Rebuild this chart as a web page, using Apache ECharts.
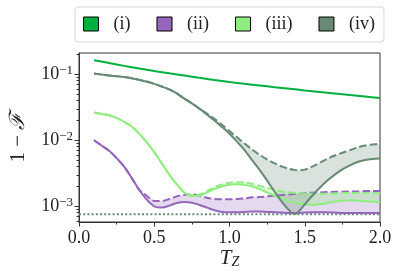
<!DOCTYPE html>
<html>
<head>
<meta charset="utf-8">
<script src="https://cdn.jsdelivr.net/npm/echarts@6/dist/echarts.min.js"></script>
<style>html,body{margin:0;padding:0;background:#fff;}#c{width:399px;height:279px;}</style>
</head>
<body>
<div id="c"></div>
<script>
// ---------- data ----------
const seriesNames = ['(i)', '(ii)', '(iii)', '(iv)'];

const tzI = [0.1,0.2,0.3,0.4,0.5,0.6,0.7,0.8,0.9,1.0,1.1,1.2,1.3,1.4,1.5,1.6,1.7,1.8,1.9,2.0];
const iSolid = [0.163,0.148,0.134,0.1225,0.112,0.1033,0.0955,0.0883,0.0818,0.0762,0.0716,0.0676,0.0637,0.0603,0.0569,0.054,0.0513,0.0485,0.046,0.0437];

const tz = [0.10,0.15,0.20,0.25,0.30,0.35,0.40,0.45,0.50,0.55,0.60,0.65,0.70,0.75,0.80,0.85,0.90,0.95,1.00,1.05,1.10,1.15,1.20,1.25,1.30,1.35,1.40,1.45,1.50,1.55,1.60,1.65,1.70,1.75,1.80,1.85,1.90,1.95,2.00];

const iiSolid = [0.01,0.00832,0.00692,0.00537,0.00398,0.00269,0.00178,0.00126,0.001,0.000955,0.001023,0.001122,0.001161,0.001135,0.001047,0.000955,0.000871,0.000822,0.000813,0.000813,0.000822,0.000832,0.000832,0.000822,0.000813,0.000804,0.000794,0.000794,0.000804,0.000813,0.000813,0.000813,0.000804,0.000794,0.000794,0.000794,0.000794,0.000794,0.000794];
const iiDashed = [0.01,0.00832,0.00692,0.00537,0.00398,0.00269,0.00178,0.001445,0.001202,0.001202,0.001288,0.001413,0.001496,0.001514,0.001445,0.001349,0.001288,0.001274,0.001274,0.001288,0.001318,0.001365,0.00138,0.001413,0.001445,0.001479,0.001514,0.001549,0.001585,0.001603,0.001622,0.001641,0.00166,0.00166,0.001679,0.001679,0.001698,0.001698,0.001698];

const iiiSolid = [0.0263,0.0251,0.0240,0.0219,0.01905,0.01622,0.01259,0.00933,0.00661,0.00447,0.00302,0.00214,0.00162,0.00143,0.001445,0.00162,0.00182,0.002,0.00211,0.00216,0.00211,0.002,0.00182,0.00162,0.001445,0.00129,0.001175,0.0011,0.00106,0.001047,0.00107,0.00112,0.001175,0.001216,0.00123,0.001216,0.001189,0.001175,0.00116];
const iiiDashed = [0.0263,0.0251,0.0240,0.0219,0.01905,0.01622,0.01259,0.00933,0.00661,0.00447,0.00302,0.00214,0.00162,0.001479,0.001514,0.001698,0.00195,0.00214,0.002265,0.002317,0.00229,0.00219,0.00204,0.001905,0.001778,0.001679,0.001622,0.001585,0.001567,0.001549,0.001549,0.001549,0.001567,0.001585,0.001585,0.001585,0.001585,0.001585,0.001585];

const tzIV = [0.10,0.15,0.20,0.25,0.30,0.35,0.40,0.45,0.50,0.55,0.60,0.65,0.70,0.75,0.80,0.85,0.90,0.95,1.00,1.05,1.10,1.15,1.20,1.25,1.30,1.35,1.40,1.425,1.45,1.50,1.55,1.60,1.65,1.70,1.75,1.80,1.85,1.90,1.95,2.00];
const ivSolid = [0.1026,0.0989,0.0955,0.0933,0.0908,0.0871,0.0822,0.0776,0.0716,0.0653,0.0589,0.0513,0.0427,0.0363,0.0302,0.02455,0.01995,0.01585,0.01259,0.00955,0.00708,0.00501,0.00355,0.00245,0.00166,0.00115,0.000851,0.000767,0.000794,0.00107,0.001445,0.001905,0.00245,0.00302,0.00363,0.00417,0.00468,0.00501,0.00519,0.00528];
const ivDashed = [0.1026,0.0989,0.0955,0.0933,0.0908,0.0871,0.0822,0.0776,0.0716,0.0653,0.0589,0.0513,0.0427,0.0363,0.0302,0.0254,0.0211,0.0172,0.0138,0.01109,0.00891,0.00724,0.00603,0.00513,0.00447,0.00398,0.00367,0.00357,0.00351,0.00359,0.00398,0.00457,0.00525,0.00589,0.00646,0.00708,0.00776,0.00832,0.00861,0.00891];

const floorX = [0.0, 2.0];
const floorY = [0.00076, 0.00076];

const yMajor = [0.001, 0.01, 0.1];
const yMajorExp = ['−3', '−2', '−1'];
const yMinor = [0.0006,0.0007,0.0008,0.0009,0.002,0.003,0.004,0.005,0.006,0.007,0.008,0.009,0.02,0.03,0.04,0.05,0.06,0.07,0.08,0.09,0.2];
const yMin = 0.000578, yMax = 0.21;

// ---------- styling ----------
const colors = ['#00b140', '#9467bd', '#90ee80', '#688a74'];
const fills = ['rgba(0,177,64,0.25)', 'rgba(148,103,189,0.25)', 'rgba(144,238,128,0.3)', 'rgba(104,138,116,0.25)'];
const FONT = 'Liberation Serif';
const dash = [7.4, 3.2];

function pairs(xs, ys) { return xs.map((x, i) => [x, ys[i]]); }

function band(xs, lo, hi, fill) {
  return {
    type: 'custom', silent: true, z: 1,
    data: [[xs[0], lo[0]]],
    renderItem: function (params, api) {
      const pts = [];
      for (let i = 0; i < xs.length; i++) pts.push(api.coord([xs[i], lo[i]]));
      for (let i = xs.length - 1; i >= 0; i--) pts.push(api.coord([xs[i], hi[i]]));
      return { type: 'polygon', shape: { points: pts }, style: { fill: fill } };
    }
  };
}

function line(name, xs, ys, color, dashed, z) {
  return {
    type: 'line', name: name, data: pairs(xs, ys), symbol: 'none', showSymbol: false,
    z: z, silent: true, smooth: 0.3,
    lineStyle: { color: color, width: 2, type: dashed ? dash : 'solid' },
    itemStyle: { color: color }
  };
}

const chart = echarts.init(document.getElementById('c'), null, { renderer: 'canvas' });

const option = {
  animation: false,
  backgroundColor: '#fff',
  grid: { left: 75, right: 19, top: 53, bottom: 57, show: true, borderColor: '#333', borderWidth: 1, backgroundColor: 'transparent' },
  legend: {
    left: 75, top: 7,
    padding: [8, 9, 9, 8],
    itemGap: 26, itemWidth: 15, itemHeight: 14,
    backgroundColor: '#fff', borderColor: '#d6d6d6', borderWidth: 1, borderRadius: 3,
    textStyle: { fontFamily: FONT, fontSize: 18, color: '#222', padding: [0, 0, 0, 10] },
    data: seriesNames.map((n, i) => ({ name: n, icon: 'rect', itemStyle: { color: colors[i], borderColor: '#000', borderWidth: 1 } }))
  },
  xAxis: {
    type: 'value', min: 0, max: 2, interval: 0.5,
    axisLine: { show: true, lineStyle: { color: '#333', width: 1 } },
    axisTick: { show: true, length: 4.5, lineStyle: { color: '#333' } },
    minorTick: { show: true, splitNumber: 2, length: 2.5, lineStyle: { color: '#333' } },
    splitLine: { show: false },
    axisLabel: { margin: 7, fontFamily: FONT, fontSize: 18, color: '#222', formatter: v => v.toFixed(1) },
    name: '{t|T}{z|Z}', nameLocation: 'middle', nameGap: 25, nameMoveOverlap: false,
    nameTextStyle: { rich: {
      t: { fontFamily: FONT, fontStyle: 'italic', fontSize: 21, color: '#222', lineHeight: 22 },
      z: { fontFamily: FONT, fontStyle: 'italic', fontSize: 14, color: '#222', lineHeight: 10, verticalAlign: 'bottom' }
    } }
  },
  yAxis: [{
    type: 'log', logBase: 10, min: yMin, max: yMax,
    axisLine: { show: true, lineStyle: { color: '#333', width: 1 } },
    axisTick: { show: true, length: 4.5, customValues: yMajor, lineStyle: { color: '#333' } },
    splitLine: { show: false },
    axisLabel: {
      margin: 6, customValues: yMajor,
      formatter: function (v) {
        const k = yMajor.findIndex(m => Math.abs(m - v) / m < 1e-6);
        return '{b|10}{s|' + yMajorExp[k] + '}';
      },
      rich: {
        b: { fontFamily: FONT, fontSize: 18, color: '#222', lineHeight: 20 },
        s: { fontFamily: FONT, fontSize: 13, color: '#222', lineHeight: 12, verticalAlign: 'top' }
      }
    },
    name: '1 − {f|ℱ}', nameLocation: 'middle', nameGap: 50, nameRotate: 90, nameMoveOverlap: false,
    nameTextStyle: { fontFamily: FONT, fontSize: 21, color: '#222', rich: {
      f: { fontFamily: 'DejaVu Serif', fontStyle: 'italic', fontSize: 21, color: '#222' }
    } }
  }, {
    type: 'log', logBase: 10, min: yMin, max: yMax, position: 'left',
    axisLine: { show: false },
    axisTick: { show: true, length: 2.5, customValues: yMinor, lineStyle: { color: '#333' } },
    axisLabel: { show: false },
    splitLine: { show: false }
  }],
  series: [
    band(tzIV, ivSolid, ivDashed, fills[3]),
    band(tz, iiSolid, iiDashed, fills[1]),
    band(tz, iiiSolid, iiiDashed, fills[2]),
    {
      type: 'line', name: 'floor', data: pairs(floorX, floorY), symbol: 'none', silent: true, z: 2,
      lineStyle: { color: colors[3], width: 2, type: [2, 2.2] }
    },
    line('(ii)', tz, iiSolid, colors[1], false, 3),
    line('(ii) dashed', tz, iiDashed, colors[1], true, 3),
    line('(iii)', tz, iiiSolid, colors[2], false, 4),
    line('(iii) dashed', tz, iiiDashed, colors[2], true, 4),
    line('(iv)', tzIV, ivSolid, colors[3], false, 5),
    line('(iv) dashed', tzIV, ivDashed, colors[3], true, 5),
    line('(i)', tzI, iSolid, colors[0], false, 6)
  ]
};
chart.setOption(option);
</script>
</body>
</html>
